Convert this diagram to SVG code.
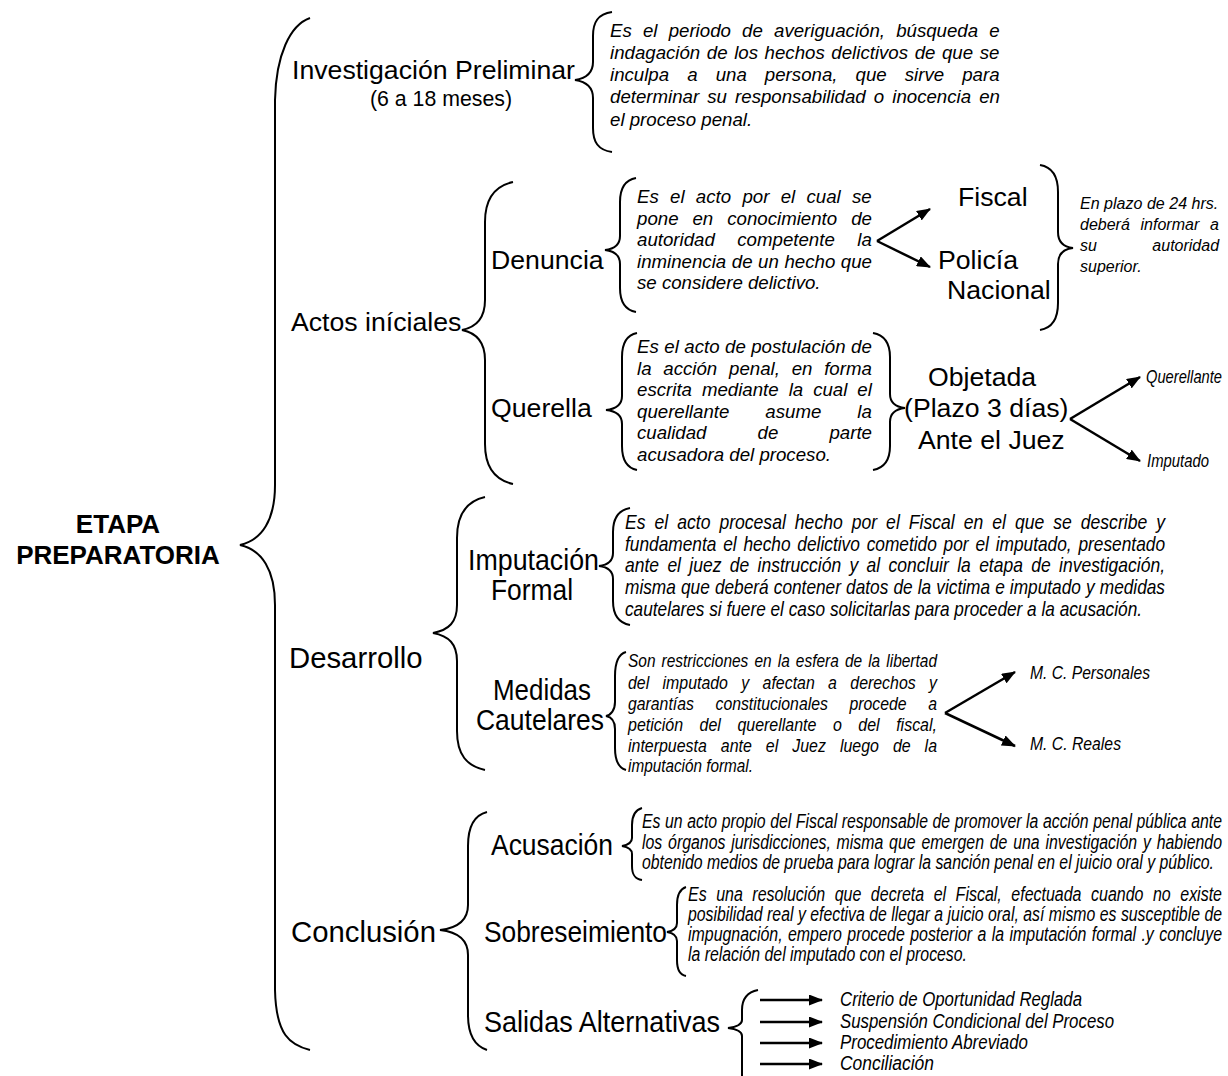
<svg xmlns="http://www.w3.org/2000/svg" width="1228" height="1076" viewBox="0 0 1228 1076">
<defs>
<style>
.lbl{font-family:'Liberation Sans',Arial,sans-serif;font-size:26.67px;fill:#000}
.big{font-size:29.3px}
.title{font-family:'Liberation Sans',Arial,sans-serif;font-weight:bold;font-size:26px;fill:#000}
.nlbl{font-family:'Liberation Sans Narrow','Arial Narrow','Liberation Sans',sans-serif;font-size:30px;fill:#000}
.para{font-family:'Liberation Sans',Arial,sans-serif;font-style:italic;font-size:18.67px;fill:#000}
.small{font-size:16px}
.np{font-family:'Liberation Sans Narrow','Arial Narrow','Liberation Sans',sans-serif;font-style:italic;fill:#000}
.brace{fill:none;stroke:#000;stroke-width:2}
.arr{stroke:#000;stroke-width:2.5;fill:none;marker-end:url(#ah)}
</style>
<marker id="ah" markerUnits="userSpaceOnUse" markerWidth="14" markerHeight="11" refX="13" refY="5.5" orient="auto"><path d="M0,0 L14,5.5 L0,11 z" fill="#000"/></marker>
</defs>
<rect width="1228" height="1076" fill="#fff"/>

<g id="connectors">
<path class="brace" d="M310,18 C290,25 276,55 275,100 L275,485 C275,520 262,540 240,545 C262,550 275,570 275,605 L275,990 C276,1035 290,1045 310,1050"/>
<path class="brace" d="M612,12 C598,14 593,22 593,36 L593,62 C593,72 588,78 575,80 C588,82 593,88 593,98 L593,128 C593,142 598,150 612,152"/>
<path class="brace" d="M513,182 C495,186 485,198 485,222 L485,300 C485,318 477,327 462,330 C477,333 485,342 485,360 L485,444 C485,468 495,480 513,484"/>
<path class="brace" d="M636,178 C625,180 620,188 620,202 L620,236 C620,245 614,249 605,250 C614,251 620,255 620,264 L620,288 C620,302 625,310 636,312"/>
<path class="brace" d="M1040,165 C1052,167 1058,176 1058,192 L1058,232 C1058,242 1064,247 1073,248 C1064,249 1058,254 1058,264 L1058,303 C1058,320 1052,328 1040,330"/>
<path class="brace" d="M637,333 C627,335 622,343 622,357 L622,396 C622,405 616,409 606,410 C616,411 622,415 622,424 L622,446 C622,460 627,468 637,470"/>
<path class="brace" d="M873,333 C884,335 890,343 890,357 L890,394 C890,403 896,407 905,408 C896,409 890,413 890,422 L890,446 C890,460 884,468 873,470"/>
<path class="brace" d="M485,497 C467,501 457,514 457,538 L457,605 C457,622 449,630 433,633 C449,636 457,644 457,661 L457,731 C457,755 467,766 485,770"/>
<path class="brace" d="M630,508 C619,510 613,518 613,532 L613,553 C613,561 607,565 599,566 C607,567 613,571 613,579 L613,601 C613,615 619,623 630,625"/>
<path class="brace" d="M626,652 C619,654 615,662 615,676 L615,702 C615,710 611,715 606,716 C611,717 615,721 615,729 L615,748 C615,762 619,768 626,770"/>
<path class="brace" d="M487,812 C475,815 468,826 468,846 L468,905 C468,920 458,928 440,930 C458,932 468,940 468,955 L468,1015 C468,1035 475,1046 487,1050"/>
<path class="brace" d="M642,808 C635,810 632,815 632,825 L632,838 C632,843 628,845 622,846 C628,847 632,849 632,854 L632,866 C632,875 635,879 642,880"/>
<path class="brace" d="M686,887 C680,889 677,895 677,905 L677,923 C677,929 673,931 667,932 C673,933 677,935 677,941 L677,960 C677,970 680,975 686,976"/>
<path class="brace" d="M758,990 C748,992 742,999 742,1010 L742,1020 C742,1025 736,1027 728,1028 C736,1029 742,1031 742,1036 L742,1080"/>
<line class="arr" x1="877" y1="241" x2="930" y2="209"/>
<line class="arr" x1="877" y1="241" x2="930" y2="267"/>
<line class="arr" x1="1070" y1="419" x2="1140" y2="377"/>
<line class="arr" x1="1070" y1="419" x2="1140" y2="461"/>
<line class="arr" x1="945" y1="713" x2="1015" y2="672"/>
<line class="arr" x1="945" y1="713" x2="1015" y2="746"/>
<line class="arr" x1="760" y1="1000" x2="822" y2="1000"/>
<line class="arr" x1="760" y1="1022" x2="822" y2="1022"/>
<line class="arr" x1="760" y1="1043" x2="822" y2="1043"/>
<line class="arr" x1="760" y1="1064" x2="822" y2="1064"/>
</g>

<g id="etapa-preparatoria">
<text class="title" x="118" y="533" text-anchor="middle">ETAPA</text>
<text class="title" x="118" y="564" text-anchor="middle">PREPARATORIA</text>
</g>

<g id="investigacion-preliminar">
<text class="lbl" x="292" y="79">Investigación Preliminar</text>
<text class="lbl" x="370" y="106" style="font-size:21.3px">(6 a 18 meses)</text>
</g>
<g id="investigacion-texto">
<text class="para" x="610" y="37" style="word-spacing:6px">Es el periodo de averiguación, búsqueda e</text>
<text class="para" x="610" y="59" style="word-spacing:1.4px">indagación de los hechos delictivos de que se</text>
<text class="para" x="610" y="81" style="word-spacing:12.9px">inculpa a una persona, que sirve para</text>
<text class="para" x="610" y="103" style="word-spacing:2.9px">determinar su responsabilidad o inocencia en</text>
<text class="para" x="610" y="126">el proceso penal.</text>
</g>

<g id="actos-iniciales">
<text class="lbl" x="291" y="331">Actos iníciales</text>
</g>

<g id="denuncia">
<text class="lbl" x="491" y="269">Denuncia</text>
</g>
<g id="denuncia-texto">
<text class="para" x="637" y="203" style="word-spacing:6.1px">Es el acto por el cual se</text>
<text class="para" x="637" y="225" style="word-spacing:8.8px">pone en conocimiento de</text>
<text class="para" x="637" y="246" style="word-spacing:17.3px">autoridad competente la</text>
<text class="para" x="637" y="268" style="word-spacing:0.4px">inminencia de un hecho que</text>
<text class="para" x="637" y="289">se considere delictivo.</text>
</g>
<g id="fiscal"><text class="lbl" x="958" y="206">Fiscal</text></g>
<g id="policia-nacional">
<text class="lbl" x="938" y="269">Policía</text>
<text class="lbl" x="947" y="299">Nacional</text>
</g>
<g id="plazo-24">
<text class="para small" x="1080" y="209" style="word-spacing:0.1px">En plazo de 24 hrs.</text>
<text class="para small" x="1080" y="230" style="word-spacing:6.3px">deberá informar a</text>
<text class="para small" x="1080" y="251" style="word-spacing:51px">su autoridad</text>
<text class="para small" x="1080" y="272">superior.</text>
</g>

<g id="querella">
<text class="lbl" x="491" y="417">Querella</text>
</g>
<g id="querella-texto">
<text class="para" x="637" y="353" style="word-spacing:0.3px">Es el acto de postulación de</text>
<text class="para" x="637" y="375" style="word-spacing:6.6px">la acción penal, en forma</text>
<text class="para" x="637" y="396" style="word-spacing:4.8px">escrita mediante la cual el</text>
<text class="para" x="637" y="418" style="word-spacing:30.8px">querellante asume la</text>
<text class="para" x="637" y="439" style="word-spacing:45.9px">cualidad de parte</text>
<text class="para" x="637" y="461">acusadora del proceso.</text>
</g>
<g id="objetada">
<text class="lbl" x="928" y="386">Objetada</text>
<text class="lbl" x="904" y="417">(Plazo 3 días)</text>
<text class="lbl" x="918" y="449">Ante el Juez</text>
</g>
<g id="querellante"><text class="np" x="1146" y="383" style="font-size:18.2px" textLength="76" lengthAdjust="spacingAndGlyphs">Querellante</text></g>
<g id="imputado"><text class="np" x="1147" y="467" style="font-size:18.2px" textLength="62" lengthAdjust="spacingAndGlyphs">Imputado</text></g>

<g id="desarrollo"><text class="lbl big" x="289" y="668">Desarrollo</text></g>

<g id="imputacion-formal">
<text class="nlbl" x="468" y="570" textLength="131" lengthAdjust="spacingAndGlyphs">Imputación</text>
<text class="nlbl" x="491" y="600" textLength="82" lengthAdjust="spacingAndGlyphs">Formal</text>
</g>
<g id="imputacion-texto" style="font-size:21px">
<text class="np" x="625" y="529" style="word-spacing:4.9px" textLength="540" lengthAdjust="spacingAndGlyphs">Es el acto procesal hecho por el Fiscal en el que se describe y</text>
<text class="np" x="625" y="551" style="word-spacing:2.4px" textLength="540" lengthAdjust="spacingAndGlyphs">fundamenta el hecho delictivo cometido por el imputado, presentado</text>
<text class="np" x="625" y="572" style="word-spacing:4.2px" textLength="540" lengthAdjust="spacingAndGlyphs">ante el juez de instrucción y al concluir la etapa de investigación,</text>
<text class="np" x="625" y="594" style="word-spacing:0.4px" textLength="540" lengthAdjust="spacingAndGlyphs">misma que deberá contener datos de la victima e imputado y medidas</text>
<text class="np" x="625" y="616" textLength="517" lengthAdjust="spacingAndGlyphs">cautelares si fuere el caso solicitarlas para proceder a la acusación.</text>
</g>

<g id="medidas-cautelares">
<text class="nlbl" x="493" y="700" textLength="98" lengthAdjust="spacingAndGlyphs">Medidas</text>
<text class="nlbl" x="476" y="730" textLength="128" lengthAdjust="spacingAndGlyphs">Cautelares</text>
</g>
<g id="medidas-texto" style="font-size:18.67px">
<text class="np" x="628" y="667" style="word-spacing:2.2px" textLength="309" lengthAdjust="spacingAndGlyphs">Son restricciones en la esfera de la libertad</text>
<text class="np" x="628" y="689" style="word-spacing:10.5px" textLength="309" lengthAdjust="spacingAndGlyphs">del imputado y afectan a derechos y</text>
<text class="np" x="628" y="710" style="word-spacing:20.4px" textLength="309" lengthAdjust="spacingAndGlyphs">garantías constitucionales procede a</text>
<text class="np" x="628" y="731" style="word-spacing:14.1px" textLength="309" lengthAdjust="spacingAndGlyphs">petición del querellante o del fiscal,</text>
<text class="np" x="628" y="752" style="word-spacing:11.2px" textLength="309" lengthAdjust="spacingAndGlyphs">interpuesta ante el Juez luego de la</text>
<text class="np" x="628" y="772" textLength="125" lengthAdjust="spacingAndGlyphs">imputación formal.</text>
</g>
<g id="mc-personales"><text class="np" x="1030" y="679" style="font-size:19.2px" textLength="120" lengthAdjust="spacingAndGlyphs">M. C. Personales</text></g>
<g id="mc-reales"><text class="np" x="1030" y="750" style="font-size:19.2px" textLength="91" lengthAdjust="spacingAndGlyphs">M. C. Reales</text></g>

<g id="conclusion"><text class="lbl big" x="291" y="942">Conclusión</text></g>

<g id="acusacion"><text class="nlbl" x="491" y="855" textLength="122" lengthAdjust="spacingAndGlyphs">Acusación</text></g>
<g id="acusacion-texto" style="font-size:19.3px">
<text class="np" x="642" y="828" style="word-spacing:0.2px" textLength="580" lengthAdjust="spacingAndGlyphs">Es un acto propio del Fiscal responsable de promover la acción penal pública ante</text>
<text class="np" x="642" y="849" style="word-spacing:1.7px" textLength="580" lengthAdjust="spacingAndGlyphs">los órganos jurisdicciones, misma que emergen de una investigación y habiendo</text>
<text class="np" x="642" y="869" textLength="572" lengthAdjust="spacingAndGlyphs">obtenido medios de prueba para lograr la sanción penal en el juicio oral y público.</text>
</g>

<g id="sobreseimiento"><text class="nlbl" x="484" y="942" textLength="183" lengthAdjust="spacingAndGlyphs">Sobreseimiento</text></g>
<g id="sobreseimiento-texto" style="font-size:19.3px">
<text class="np" x="688" y="901" style="word-spacing:6.1px" textLength="534" lengthAdjust="spacingAndGlyphs">Es una resolución que decreta el Fiscal, efectuada cuando no existe</text>
<text class="np" x="688" y="921" style="word-spacing:0.1px" textLength="534" lengthAdjust="spacingAndGlyphs">posibilidad real y efectiva de llegar a juicio oral, así mismo es susceptible de</text>
<text class="np" x="688" y="941" style="word-spacing:1.2px" textLength="534" lengthAdjust="spacingAndGlyphs">impugnación, empero procede posterior a la imputación formal .y concluye</text>
<text class="np" x="688" y="961" textLength="279" lengthAdjust="spacingAndGlyphs">la relación del imputado con el proceso.</text>
</g>

<g id="salidas-alternativas"><text class="nlbl" x="484" y="1032" textLength="236" lengthAdjust="spacingAndGlyphs">Salidas Alternativas</text></g>
<g id="criterio-oportunidad"><text class="np" x="840" y="1006" style="font-size:20.5px" textLength="242" lengthAdjust="spacingAndGlyphs">Criterio de Oportunidad Reglada</text></g>
<g id="suspension-condicional"><text class="np" x="840" y="1028" style="font-size:20.5px" textLength="274" lengthAdjust="spacingAndGlyphs">Suspensión Condicional del Proceso</text></g>
<g id="procedimiento-abreviado"><text class="np" x="840" y="1049" style="font-size:20.5px" textLength="188" lengthAdjust="spacingAndGlyphs">Procedimiento Abreviado</text></g>
<g id="conciliacion"><text class="np" x="840" y="1070" style="font-size:20.5px" textLength="94" lengthAdjust="spacingAndGlyphs">Conciliación</text></g>
</svg>
